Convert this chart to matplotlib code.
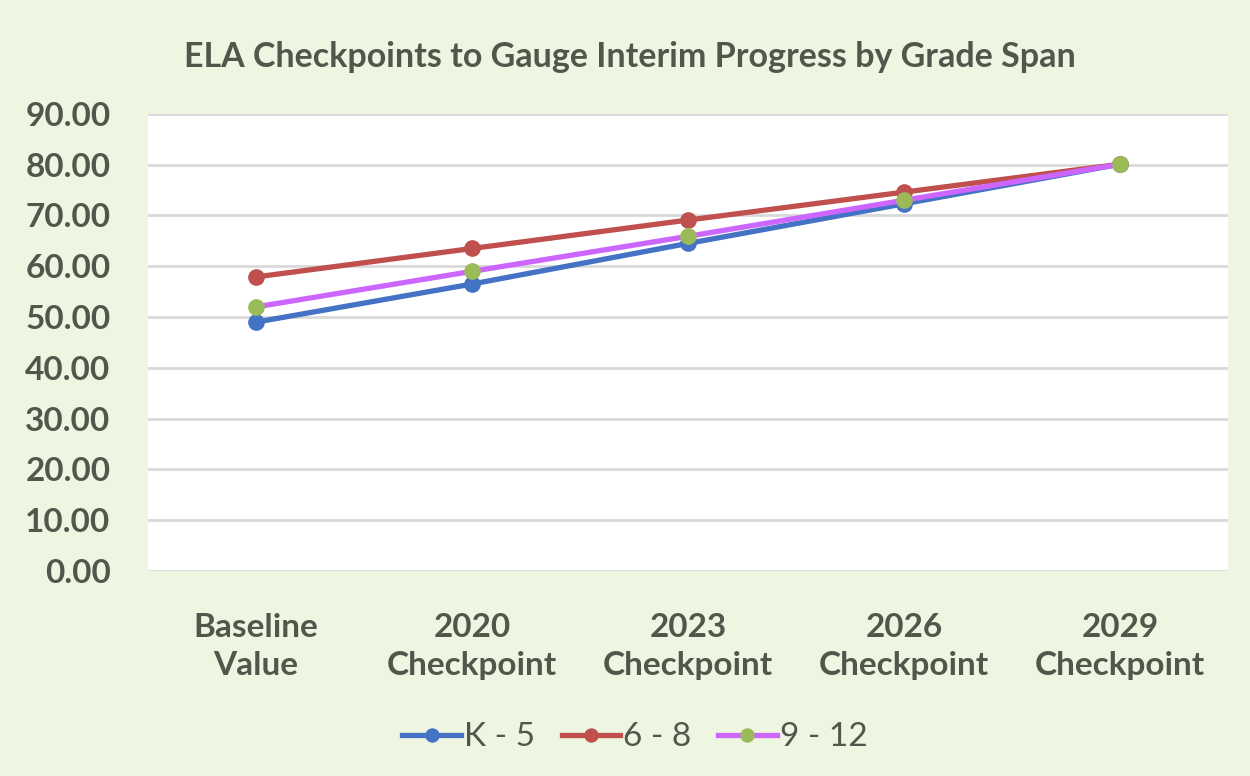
import matplotlib.pyplot as plt

# Data
categories = ['Baseline\nValue', '2020\nCheckpoint', '2023\nCheckpoint', '2026\nCheckpoint', '2029\nCheckpoint']
k5 = [49.0, 56.5, 64.5, 72.3, 80.1]
g6_8 = [57.9, 63.5, 69.1, 74.6, 80.1]
g9_12 = [52.0, 59.0, 65.9, 73.0, 80.1]
yticks = [0, 10, 20, 30, 40, 50, 60, 70, 80, 90]

plt.rcParams['font.family'] = ['Lato', 'DejaVu Sans']
text_color = '#52574c'
bg = '#eef5e0'

fig = plt.figure(figsize=(12.5, 7.76), dpi=100, facecolor=bg)
ax = fig.add_axes([0.1184, 0.2642, 0.864, 0.589])
ax.set_facecolor('white')

x = range(len(categories))
ax.plot(x, k5, '-o', color='#4472c4', lw=3.8, ms=11, label='K - 5', zorder=3)
ax.plot(x, g6_8, '-o', color='#c0504d', lw=3.8, ms=11, label='6 - 8', zorder=3)
ax.plot(x, g9_12, '-o', color='#cc66ff', mfc='#9bbb59', mec='#9bbb59', lw=3.8, ms=11,
        label='9 - 12', zorder=4)

ax.set_xlim(-0.5, len(categories) - 0.5)
ax.set_ylim(0, 90)
ax.set_yticks(yticks)
ax.set_yticklabels([f'{v:.2f}' for v in yticks], fontsize=24, fontweight='bold', color=text_color)
ax.set_xticks(list(x))
ax.set_xticklabels(categories, fontsize=24, fontweight='bold', color=text_color, linespacing=1.4)
ax.tick_params(length=0)
ax.tick_params(axis='x', pad=30)
ax.tick_params(axis='y', pad=27)
ax.grid(axis='y', color='#d9d9d9', lw=2)
ax.set_axisbelow(True)
for s in ax.spines.values():
    s.set_visible(False)

fig.text(0.504, 0.927, 'ELA Checkpoints to Gauge Interim Progress by Grade Span',
         ha='center', va='center', fontsize=24.5, fontweight='bold', color=text_color)

fig.legend(loc='center', bbox_to_anchor=(0.508, 0.05), ncol=3, frameon=False,
           fontsize=24, labelcolor=text_color, handlelength=1.75, handletextpad=0.1,
           columnspacing=0.8, markerscale=0.85)

fig.savefig('out.png', dpi=100, facecolor=bg)
